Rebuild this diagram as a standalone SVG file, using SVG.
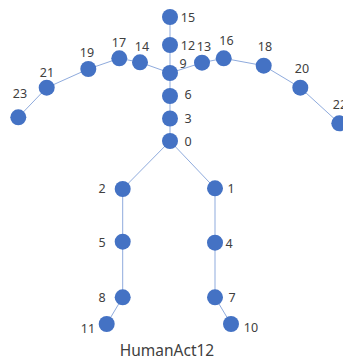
<svg xmlns="http://www.w3.org/2000/svg" width="343" height="360" viewBox="0 0 343 360">
<style>
.e{stroke:#8fabdd;stroke-width:1;fill:none}
.n{fill:#4472c4}
text{font-family:"Noto Sans","Noto Sans CJK JP",sans-serif;font-size:12.5px;fill:#404040;text-anchor:middle}
.t{font-size:15.5px}
</style>
<rect width="343" height="360" fill="#fff"/>
<g id="connectors">
<polyline class="e" points="170,17 170,45 170,73 170,96 170,118.5 170,141"/>
<polyline class="e" points="170,73 140,62.3 119.3,58.3 88.3,69 46.7,87.7 18.3,117.3"/>
<polyline class="e" points="170,73 202,62.7 223.7,58.3 263.7,65.7 300.3,87.7 339.3,123.3"/>
<polyline class="e" points="170,141 122.7,189 122.7,241.7 122.7,297.3 106.7,324"/>
<polyline class="e" points="170,141 215,188.3 215,242.7 215,297.3 231,324"/>
</g>
<g id="j15"><circle class="n" cx="170" cy="17" r="8"/><text x="188" y="21.5">15</text></g>
<g id="j12"><circle class="n" cx="170" cy="45" r="8"/><text x="188" y="49.5">12</text></g>
<g id="j9"><circle class="n" cx="170" cy="73" r="8"/><text x="183" y="67.5">9</text></g>
<g id="j6"><circle class="n" cx="170" cy="96" r="8"/><text x="188" y="98.5">6</text></g>
<g id="j3"><circle class="n" cx="170" cy="118.5" r="8"/><text x="188" y="122.5">3</text></g>
<g id="j0"><circle class="n" cx="170" cy="141" r="8"/><text x="188" y="145.5">0</text></g>
<g id="j14"><circle class="n" cx="140" cy="62.3" r="8"/><text x="142" y="50.5">14</text></g>
<g id="j17"><circle class="n" cx="119.3" cy="58.3" r="8"/><text x="119" y="46.5">17</text></g>
<g id="j19"><circle class="n" cx="88.3" cy="69" r="8"/><text x="87" y="56.5">19</text></g>
<g id="j21"><circle class="n" cx="46.7" cy="87.7" r="8"/><text x="47" y="76.5">21</text></g>
<g id="j23"><circle class="n" cx="18.3" cy="117.3" r="8"/><text x="20" y="97.5">23</text></g>
<g id="j13"><circle class="n" cx="202" cy="62.7" r="8"/><text x="204" y="50.5">13</text></g>
<g id="j16"><circle class="n" cx="223.7" cy="58.3" r="8"/><text x="226.5" y="44.5">16</text></g>
<g id="j18"><circle class="n" cx="263.7" cy="65.7" r="8"/><text x="265" y="50.5">18</text></g>
<g id="j20"><circle class="n" cx="300.3" cy="87.7" r="8"/><text x="302" y="72.5">20</text></g>
<g id="j22"><circle class="n" cx="339.3" cy="123.3" r="8"/><text x="340" y="108.5">22</text></g>
<g id="j2"><circle class="n" cx="122.7" cy="189" r="8"/><text x="102" y="192.5">2</text></g>
<g id="j5"><circle class="n" cx="122.7" cy="241.7" r="8"/><text x="102" y="246.5">5</text></g>
<g id="j8"><circle class="n" cx="122.7" cy="297.3" r="8"/><text x="102" y="301.5">8</text></g>
<g id="j11"><circle class="n" cx="106.7" cy="324" r="8"/><text x="88" y="332.5">11</text></g>
<g id="j1"><circle class="n" cx="215" cy="188.3" r="8"/><text x="231" y="192.5">1</text></g>
<g id="j4"><circle class="n" cx="215" cy="242.7" r="8"/><text x="229" y="247.5">4</text></g>
<g id="j7"><circle class="n" cx="215" cy="297.3" r="8"/><text x="232" y="301.5">7</text></g>
<g id="j10"><circle class="n" cx="231" cy="324" r="8"/><text x="251" y="331.5">10</text></g>
<text class="t" x="167" y="355.5">HumanAct12</text>
</svg>
